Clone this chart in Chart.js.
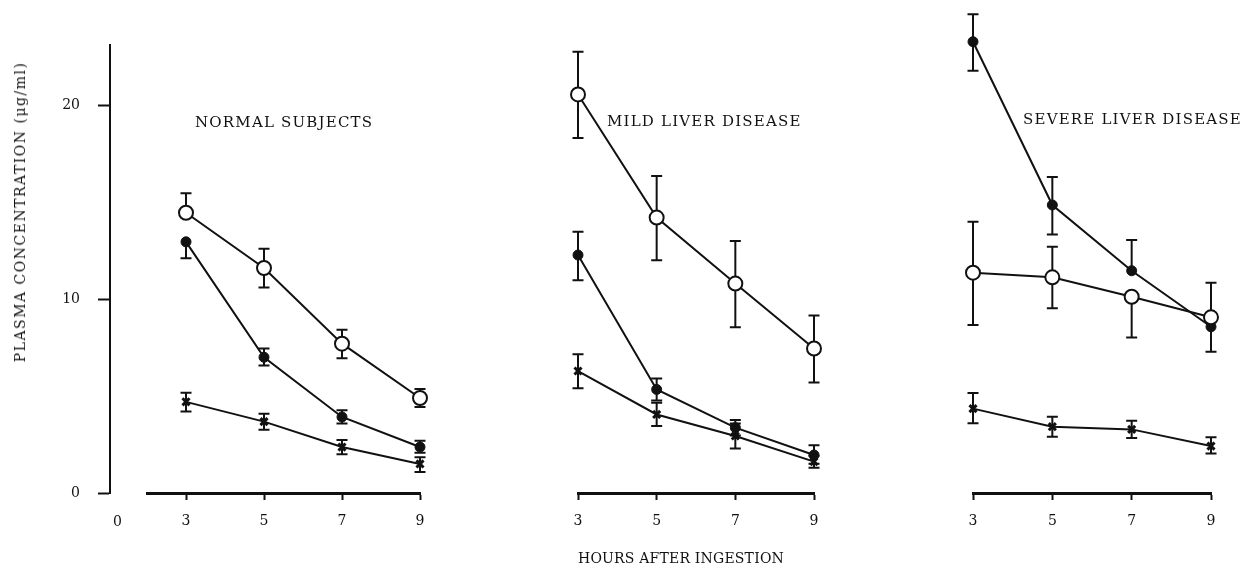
<!DOCTYPE html>
<html>
<head>
<meta charset="utf-8">
<script src="https://cdn.jsdelivr.net/npm/chart.js@4/dist/chart.umd.min.js"></script>
<style>
  html, body { margin: 0; padding: 0; background: #fff; }
  #wrap { position: relative; width: 1254px; height: 570px; background: #fff; overflow: hidden; }
  #wrap canvas { position: absolute; top: 0; }
  .lbl { position: absolute; font-family: "DejaVu Serif", serif; color: #111; white-space: nowrap; line-height: 18px; }
  .ptitle { font-size: 15px; letter-spacing: 1.2px; }
</style>
</head>
<body>
<div id="wrap">
  <canvas id="axisChart" width="120" height="570" style="left:0"></canvas>
  <canvas id="p0" width="313" height="570" style="left:127px"></canvas>
  <canvas id="p1" width="276" height="570" style="left:558px"></canvas>
  <canvas id="p2" width="278" height="570" style="left:953px"></canvas>

  <div class="lbl ptitle" id="t0" style="left:195px;top:113px"></div>
  <div class="lbl ptitle" id="t1" style="left:607px;top:112px"></div>
  <div class="lbl ptitle" id="t2" style="left:1023px;top:110px"></div>

  <div class="lbl" style="left:113px;top:512px;font-size:14px">0</div>
  <div class="lbl" id="xTitle" style="left:578px;top:549px;font-size:14px;letter-spacing:0.2px"></div>
  <div class="lbl" id="yTitle" style="left:20px;top:212px;font-size:14px;letter-spacing:1.5px;transform:translate(-50%,-50%) rotate(-90deg)"></div>
</div>
<script>
// sampling times (h) and panel names
const hours = [3, 5, 7, 9];
const panelTitles = ['NORMAL SUBJECTS', 'MILD LIVER DISEASE', 'SEVERE LIVER DISEASE'];
const xTitle = 'HOURS AFTER INGESTION';
const yTitle = 'PLASMA CONCENTRATION (\u03bcg/ml)';
const yTicks = [0, 10, 20];
const yMax = 23.1;

// open circles: mean and error bar extents (0 = side not drawn)
const openMean = [[14.45, 11.6, 7.7, 4.9], [20.55, 14.2, 10.8, 7.45], [11.36, 11.12, 10.12, 9.06]];
const openUp   = [[1.0, 1.0, 0.72, 0.46], [2.2, 2.15, 2.2, 1.7], [2.63, 1.58, 0, 1.78]];
const openDown = [[0, 1.0, 0.75, 0.46], [2.25, 2.2, 2.25, 1.75], [2.7, 1.6, 2.1, 0]];

// filled circles
const fillMean = [[12.95, 7.0, 3.92, 2.37], [12.27, 5.34, 3.37, 1.96], [23.27, 14.85, 11.46, 8.57]];
const fillUp   = [[0, 0.45, 0.35, 0.32], [1.2, 0.57, 0.4, 0.5], [1.42, 1.45, 1.58, 0]];
const fillDown = [[0.85, 0.42, 0.33, 0.3], [1.3, 0.57, 0.4, 0.45], [1.5, 1.52, 0, 1.29]];

// crosses
const crossMean = [[4.7, 3.68, 2.37, 1.5], [6.29, 4.05, 2.94, 1.62], [4.35, 3.42, 3.28, 2.42]];
const crossUp   = [[0.47, 0.4, 0.36, 0.34], [0.87, 0.6, 0.65, 0.3], [0.8, 0.51, 0.45, 0.45]];
const crossDown = [[0.5, 0.42, 0.37, 0.42], [0.89, 0.6, 0.65, 0.32], [0.75, 0.52, 0.45, 0.38]];

// first hour shown on each panel's axis line
const panelStart = [2, 3, 3];

const INK = '#111';
const SERIF = '"DejaVu Serif", serif';

panelTitles.forEach((t, i) => { document.getElementById('t' + i).textContent = t; });
document.getElementById('xTitle').textContent = xTitle;
document.getElementById('yTitle').textContent = yTitle;

// vertical error bars with short caps, drawn under the markers
const errorBars = {
  id: 'errorBars',
  beforeDatasetsDraw(chart) {
    const ctx = chart.ctx;
    const y = chart.scales.y;
    ctx.save();
    ctx.strokeStyle = INK;
    ctx.lineWidth = 2;
    chart.data.datasets.forEach((ds, di) => {
      const meta = chart.getDatasetMeta(di);
      meta.data.forEach((pt, j) => {
        const v = ds.data[j].y;
        const segs = [[ds.errUp[j], 1], [ds.errDown[j], -1]];
        segs.forEach(([e, dir]) => {
          if (!e) return;
          const yEnd = y.getPixelForValue(v + dir * e);
          ctx.beginPath();
          ctx.moveTo(pt.x, pt.y);
          ctx.lineTo(pt.x, yEnd);
          ctx.moveTo(pt.x - 5.5, yEnd);
          ctx.lineTo(pt.x + 5.5, yEnd);
          ctx.stroke();
        });
      });
    });
    ctx.restore();
  }
};

function series(mean, up, down, style) {
  return Object.assign({
    data: hours.map((h, j) => ({ x: h, y: mean[j] })),
    errUp: up,
    errDown: down,
    borderColor: INK,
    borderWidth: 2,
    tension: 0,
    clip: false,
    pointBorderColor: INK
  }, style);
}

// shared y axis on its own canvas
new Chart(document.getElementById('axisChart'), {
  type: 'line',
  data: { datasets: [] },
  options: {
    responsive: false,
    animation: false,
    devicePixelRatio: 1,
    events: [],
    layout: { padding: { top: 45, bottom: 77, left: 0, right: 10 } },
    plugins: { legend: { display: false }, tooltip: { enabled: false } },
    scales: {
      x: { display: false, type: 'linear', min: 0, max: 1 },
      y: {
        type: 'linear', min: 0, max: yMax,
        afterFit: s => { s.width = 110; },
        afterBuildTicks: s => { s.ticks = yTicks.map(v => ({ value: v })); },
        border: { display: true, color: INK, width: 2 },
        grid: { drawOnChartArea: false, drawTicks: true, tickLength: 12, tickWidth: 2, tickColor: INK },
        ticks: { color: INK, font: { family: SERIF, size: 14 }, padding: 18 }
      }
    }
  }
});

// one chart per patient group
panelTitles.forEach((title, i) => {
  new Chart(document.getElementById('p' + i), {
    type: 'line',
    data: {
      datasets: [
        series(openMean[i], openUp[i], openDown[i], {
          pointStyle: 'circle', pointRadius: 7, pointBackgroundColor: '#fff', pointBorderWidth: 2
        }),
        series(fillMean[i], fillUp[i], fillDown[i], {
          pointStyle: 'circle', pointRadius: 5, pointBackgroundColor: INK, pointBorderWidth: 1
        }),
        series(crossMean[i], crossUp[i], crossDown[i], {
          pointStyle: 'crossRot', pointRadius: 5, pointBackgroundColor: INK, pointBorderWidth: 3
        })
      ]
    },
    options: {
      responsive: false,
      animation: false,
      devicePixelRatio: 1,
      events: [],
      layout: { padding: { top: 45, bottom: 37, left: 20, right: 20 } },
      plugins: { legend: { display: false }, tooltip: { enabled: false } },
      scales: {
        y: { display: false, type: 'linear', min: 0, max: yMax },
        x: {
          type: 'linear', min: panelStart[i], max: 9,
          afterFit: s => { s.height = 40; },
          afterBuildTicks: s => { s.ticks = hours.map(v => ({ value: v })); },
          border: { display: true, color: INK, width: 3 },
          grid: { drawOnChartArea: false, drawTicks: true, tickLength: 7, tickWidth: 2, tickColor: INK },
          ticks: { color: INK, font: { family: SERIF, size: 14 }, padding: 13, maxRotation: 0 }
        }
      }
    },
    plugins: [errorBars]
  });
});
</script>
</body>
</html>
